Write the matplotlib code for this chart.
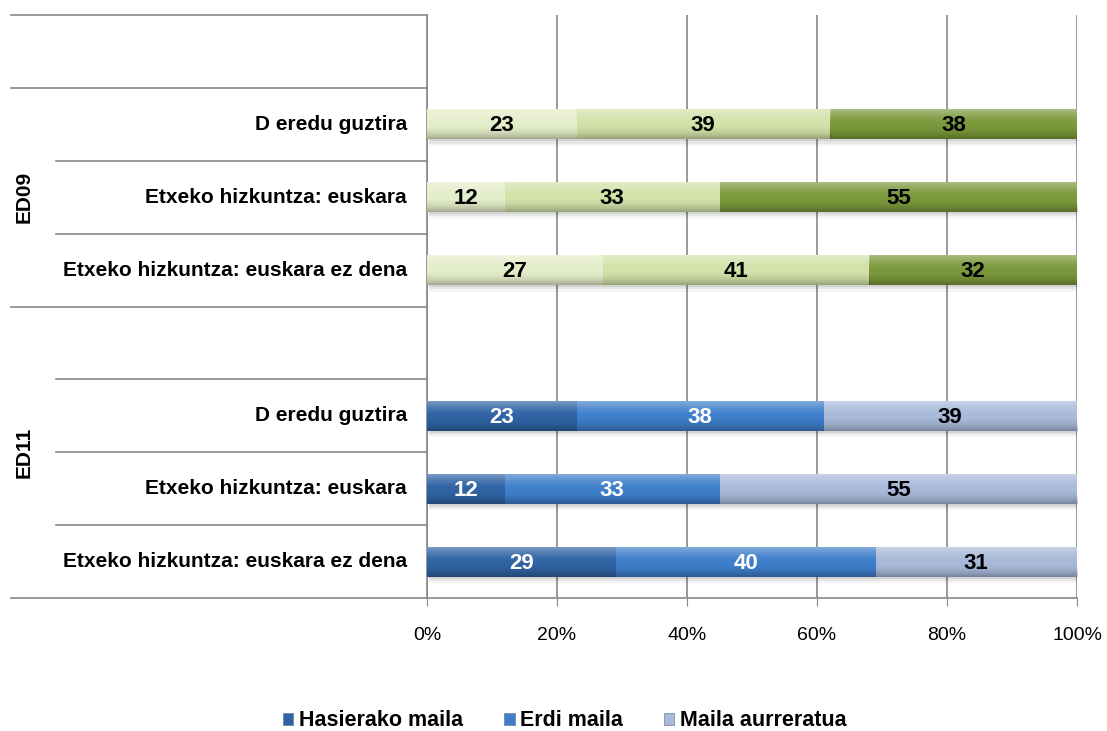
import numpy as np
import matplotlib
matplotlib.use('Agg')
import matplotlib.pyplot as plt
from matplotlib.patches import Patch
from matplotlib.transforms import blended_transform_factory

plt.rcParams['font.family'] = ['Liberation Sans', 'DejaVu Sans']

# rows from top to bottom, empty strings are spacer rows
categories = ['', 'D eredu guztira', 'Etxeko hizkuntza: euskara',
              'Etxeko hizkuntza: euskara ez dena', '',
              'D eredu guztira', 'Etxeko hizkuntza: euskara',
              'Etxeko hizkuntza: euskara ez dena']
groups = ['ED09', 'ED11']
group_rows = [(1, 3), (4, 7)]
hasierako = [np.nan, 23, 12, 27, np.nan, 23, 12, 29]
erdi = [np.nan, 39, 33, 41, np.nan, 38, 33, 40]
aurreratua = [np.nan, 38, 55, 32, np.nan, 39, 55, 31]
series_names = ['Hasierako maila', 'Erdi maila', 'Maila aurreratua']
xticks = [0, 20, 40, 60, 80, 100]

green = ['#e4edca', '#d2e2a9', '#7a993b']
blue = ['#2f63a4', '#3e7ecb', '#a8b9d9']
text_green = ['black', 'black', 'black']
text_blue = ['white', 'white', 'black']

fig = plt.figure(figsize=(11.07, 7.31), dpi=100)
ax = fig.add_axes([427/1107, 1-598/731, 650/1107, 583/731])

# vertical shading used for the bevel look: light on top, dark at bottom
shade = np.zeros((32, 1, 4))
t = np.linspace(0, 1, 32)
shade[:, 0, :3] = np.where(t < 0.5, 1.0, 0.0)[:, None]
shade[:, 0, 3] = np.where(t < 0.5, 0.35 * (1 - 2*t) ** 1.5, 0.28 * (2*t - 1) ** 2)

y = np.arange(len(categories))
h = 0.41
series = [hasierako, erdi, aurreratua]
left = np.zeros(len(categories))
for k, vals in enumerate(series):
    vals = np.array(vals, dtype=float)
    for i in range(len(categories)):
        if np.isnan(vals[i]):
            continue
        is_green = i < 4
        col = green[k] if is_green else blue[k]
        tcol = text_green[k] if is_green else text_blue[k]
        # soft shadow
        for off, a in [(0.09, 0.04), (0.06, 0.06), (0.03, 0.08)]:
            ax.barh(y[i] + off, vals[i], left=left[i] + 0.3, height=h,
                    color='black', alpha=a, zorder=2, linewidth=0)
        bar = ax.barh(y[i], vals[i], left=left[i], height=h, color=col,
                      zorder=3, linewidth=0)[0]
        im = ax.imshow(shade, extent=[left[i], left[i] + vals[i],
                                      y[i] + h/2, y[i] - h/2],
                       aspect='auto', zorder=4, interpolation='bilinear')
        im.set_clip_path(bar)
        ax.text(left[i] + vals[i]/2, y[i] + 0.02, '%d' % vals[i], ha='center',
                va='center', fontsize=16, fontweight='bold', color=tcol, zorder=5)
    left = left + np.nan_to_num(vals)

ax.set_xlim(0, 100)
ax.set_ylim(len(categories) - 0.5, -0.5)
ax.set_xticks(xticks)
ax.set_xticklabels(['%d%%' % t for t in xticks], fontsize=14)
ax.tick_params(axis='x', length=6, color='#888888', pad=15)
ax.set_yticks([])
ax.grid(axis='x', color='#888888', linewidth=1.2, zorder=0)
for s in ['top', 'right']:
    ax.spines[s].set_visible(False)
for s in ['left', 'bottom']:
    ax.spines[s].set_color('#888888')
    ax.spines[s].set_linewidth(1.2)

# category axis labels and separators
trans = blended_transform_factory(fig.transFigure, ax.transData)
for i, c in enumerate(categories):
    if c:
        ax.text(407/1107, y[i], c, transform=trans, ha='right', va='center',
                fontsize=15, fontweight='bold')
full_lines = [-0.5, 0.5, 3.5, 7.5]
short_lines = [1.5, 2.5, 4.5, 5.5, 6.5]
for b in full_lines:
    ax.plot([11/1107, 427/1107], [b, b], transform=trans, color='#888888',
            linewidth=1.2, clip_on=False)
for b in short_lines:
    ax.plot([56/1107, 427/1107], [b, b], transform=trans, color='#888888',
            linewidth=1.2, clip_on=False)
for g, (a, b) in zip(groups, group_rows):
    ax.text(24/1107, (a - 0.5 + b + 0.5) / 2, g, transform=trans, rotation=90,
            ha='center', va='center', fontsize=15, fontweight='bold')

handles = [Patch(facecolor=blue[k], edgecolor='#6e7f99', linewidth=0.5)
           for k in range(3)]
fig.legend(handles, series_names, loc='center', bbox_to_anchor=(0.510, 1-721/731),
           ncol=3, frameon=False, handlelength=0.5, handleheight=0.5,
           handletextpad=0.25, columnspacing=1.9,
           prop={'weight': 'bold', 'size': 15.5})

fig.savefig('out.png', dpi=100)
